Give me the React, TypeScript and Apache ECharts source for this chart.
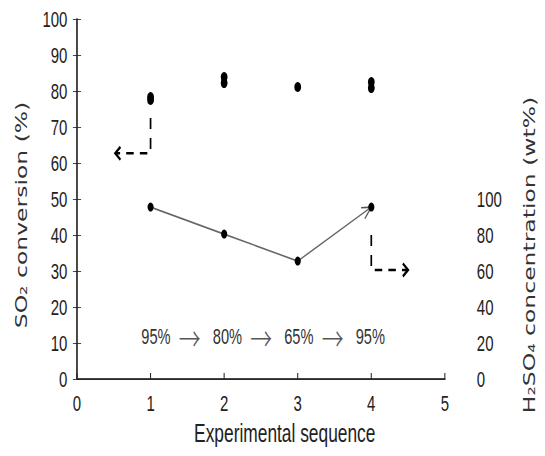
import React, { useEffect, useRef } from 'react';
import * as echarts from 'echarts';

// ---- data ----
const xTickValues = [0, 1, 2, 3, 4, 5];
const so2X = [1, 1, 2, 2, 3, 4, 4];
const so2Conversion = [77.5, 78.3, 82.2, 83.9, 81.1, 80.8, 82.5];
const seqX = [1, 2, 3, 4];
const h2so4Conc = [95.5, 80.5, 65.5, 95.5];
const noteSteps = ['95%', '80%', '65%', '95%'];
const leftArrow = [[1, 72.5], [1, 62.7], [0.52, 62.7]];
const rightArrow = [[4, 40], [4, 30.3], [4.5, 30.3]];
const noteAt = [2.53, 11.7];
const leftTitle = 'SO\u2082 conversion (%)';
const rightTitle = 'H\u2082SO\u2084 concentration (wt%)';
const xTitle = 'Experimental sequence';

const W = 800;
const H = 456;
const SX = 545 / W;

function chevron(tip: number[], prev: number[], L: number, a: number) {
  const dx = tip[0] - prev[0];
  const dy = tip[1] - prev[1];
  const len = Math.hypot(dx, dy) || 1;
  const ux = dx / len;
  const uy = dy / len;
  const arm = (s: number) => [
    tip[0] - L * (ux * Math.cos(a) - s * uy * Math.sin(a)),
    tip[1] - L * (uy * Math.cos(a) + s * ux * Math.sin(a)),
  ];
  return [arm(1), tip, arm(-1)];
}

export default function App() {
  const ref = useRef<HTMLDivElement>(null);
  useEffect(() => {
    if (!ref.current) return;
    const chart = echarts.init(ref.current, undefined, { renderer: 'svg' });
    const labelFont = { fontFamily: 'Liberation Sans, Arial, sans-serif', fontSize: 22, color: '#222' };
    const noteRich = noteSteps.join('\u00a0\u00a0{ar|\u2192}\u00a0\u00a0\u00a0');
    chart.setOption({
      animation: false,
      backgroundColor: '#fff',
      grid: { left: 113, right: 147, top: 19, bottom: 77 },
      xAxis: [
        {
          type: 'value', min: 0, max: 5, interval: 1,
          axisLine: { show: true, lineStyle: { color: '#444', width: 2 } },
          axisTick: { show: true, inside: true, length: 6, lineStyle: { color: '#222', width: 1.5 } },
          axisLabel: { ...labelFont, margin: 13 },
          splitLine: { show: false },
          data: xTickValues,
        },
        {
          type: 'value', position: 'top', min: 0, max: 5, interval: 1,
          axisLine: { show: true, lineStyle: { color: '#222', width: 1 } },
          axisTick: { show: false }, axisLabel: { show: false }, splitLine: { show: false },
        },
      ],
      yAxis: [
        {
          type: 'value', min: 0, max: 100, interval: 10, position: 'left',
          axisLine: { show: true, lineStyle: { color: '#111', width: 1.5 } },
          axisTick: { show: true, inside: true, length: 6, lineStyle: { color: '#222', width: 1 } },
          axisLabel: { ...labelFont, margin: 14 },
          splitLine: { show: false },
        },
        {
          type: 'value', min: 0, max: 200, interval: 20, position: 'right',
          axisLine: { show: true, lineStyle: { color: '#111', width: 1.5 } },
          axisTick: { show: true, inside: true, length: 6, lineStyle: { color: '#222', width: 1 } },
          axisLabel: { ...labelFont, margin: 47, formatter: (v: number) => (v <= 100 ? String(v) : '') },
          splitLine: { show: false },
        },
      ],
      graphic: [
        {
          type: 'text', x: 31.6, y: 215, rotation: Math.PI / 2,
          style: { text: leftTitle, fontFamily: 'DejaVu Sans', fontSize: 23.5, fill: '#333', align: 'center', verticalAlign: 'middle', textAlign: 'center', textVerticalAlign: 'middle' },
        },
        {
          type: 'text', x: 776.5, y: 255, rotation: Math.PI / 2,
          style: { text: rightTitle, fontFamily: 'DejaVu Sans', fontSize: 23.5, fill: '#333', align: 'center', verticalAlign: 'middle', textAlign: 'center', textVerticalAlign: 'middle' },
        },
        {
          type: 'text', x: 418, y: 433,
          style: { text: xTitle, fontFamily: 'Liberation Sans, Arial, sans-serif', fontSize: 25.5, fill: '#222', align: 'center', verticalAlign: 'middle', textAlign: 'center', textVerticalAlign: 'middle' },
        },
      ],
      series: [
        {
          name: 'H2SO4 concentration', type: 'line', xAxisIndex: 0, yAxisIndex: 1,
          data: seqX.map((x, i) => [x, h2so4Conc[i]]),
          symbol: 'circle', symbolSize: 9,
          lineStyle: { color: '#666', width: 1.6 },
          itemStyle: { color: '#000', opacity: 1 },
          z: 3,
        },
        {
          name: 'arrow', type: 'custom', xAxisIndex: 0, yAxisIndex: 1,
          data: [[seqX[seqX.length - 1], h2so4Conc[h2so4Conc.length - 1]]],
          renderItem: (_p: any, api: any) => {
            const n = seqX.length;
            const a = api.coord([seqX[n - 2], h2so4Conc[n - 2]]);
            const b = api.coord([seqX[n - 1], h2so4Conc[n - 1]]);
            return {
              type: 'polyline',
              shape: { points: chevron(b, a, 15, 0.42) },
              style: { stroke: '#555', lineWidth: 1.6, fill: null },
            };
          },
          z: 2,
        },
        {
          name: 'SO2 conversion', type: 'scatter', xAxisIndex: 0, yAxisIndex: 0,
          data: so2X.map((x, i) => [x, so2Conversion[i]]),
          symbol: 'circle', symbolSize: 10,
          itemStyle: { color: '#000', opacity: 1 },
          z: 4,
        },
        {
          name: 'notes', type: 'custom', xAxisIndex: 0, yAxisIndex: 0,
          data: [leftArrow[0], rightArrow[0], noteAt],
          renderItem: (params: any, api: any) => {
            if (params.dataIndex === 2) {
              const p = api.coord(noteAt);
              return {
                type: 'text', x: p[0], y: p[1],
                style: {
                  text: noteRich, fontFamily: 'Liberation Sans, Arial, sans-serif', fontSize: 21.5, fill: '#333',
                  align: 'center', verticalAlign: 'middle', textAlign: 'center', textVerticalAlign: 'middle',
                  rich: { ar: { fontFamily: 'Noto Sans CJK KR', fontWeight: 300, fontSize: 32, fill: '#555', color: '#555' } },
                },
              };
            }
            const path = params.dataIndex === 0 ? leftArrow : rightArrow;
            const pts = path.map((q) => api.coord(q));
            const n = pts.length;
            return {
              type: 'group',
              children: [
                { type: 'polyline', shape: { points: pts }, style: { stroke: '#000', lineWidth: 2.5, lineDash: [11, 9], fill: null } },
                { type: 'polyline', shape: { points: chevron(pts[n - 1], pts[n - 2], 10, 0.7) }, style: { stroke: '#000', lineWidth: 2.8, fill: null } },
              ],
            };
          },
          z: 5,
        },
      ],
    });
    return () => chart.dispose();
  }, []);
  return (
    <div style={{ position: 'fixed', left: 0, top: 0, width: 545, height: H, overflow: 'hidden', background: '#fff' }}>
      <div ref={ref} style={{ width: W, height: H, transform: `scaleX(${SX})`, transformOrigin: '0 0' }} />
    </div>
  );
}
